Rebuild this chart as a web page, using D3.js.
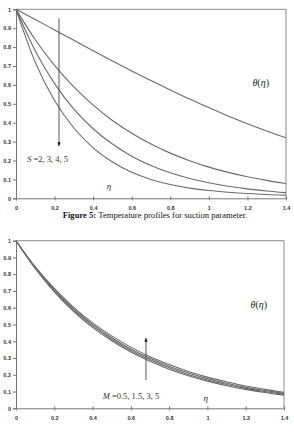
<!DOCTYPE html>
<html><head><meta charset="utf-8">
<script src="https://cdn.jsdelivr.net/npm/d3@7"></script>
<style>body{margin:0;background:#fff}svg{display:block}</style>
</head><body>
<svg id="c" width="294" height="432"></svg>
<script>
const eta = [0,0.1,0.2,0.3,0.4,0.5,0.6,0.7,0.8,0.9,1.0,1.1,1.2,1.3,1.4];
const xTicks = [0,0.2,0.4,0.6,0.8,1,1.2,1.4];
const xTickLabels = ["0","0.2","0.4","0.6","0.8","1","1.2","1.4"];
const yTicks = [0,0.1,0.2,0.3,0.4,0.5,0.6,0.7,0.8,0.9,1];
const yTickLabels = ["0","0.1","0.2","0.3","0.4","0.5","0.6","0.7","0.8","0.9","1"];

// Figure 5: suction parameter S = 2, 3, 4, 5
const sLabels = ["S=2","S=3","S=4","S=5"];
const thetaS2 = [1,0.946,0.891,0.836,0.781,0.727,0.674,0.623,0.573,0.525,0.480,0.436,0.395,0.356,0.320];
const thetaS3 = [1,0.839,0.703,0.589,0.493,0.412,0.344,0.287,0.239,0.199,0.165,0.137,0.114,0.095,0.078];
const thetaS4 = [1,0.779,0.607,0.472,0.368,0.287,0.223,0.174,0.135,0.105,0.082,0.064,0.050,0.039,0.030];
const thetaS5 = [1,0.719,0.517,0.372,0.267,0.192,0.138,0.100,0.073,0.054,0.041,0.032,0.025,0.020,0.017];

// Figure 6: magnetic parameter M = 0.5, 1.5, 3, 5
const mLabels = ["M=0.5","M=1.5","M=3","M=5"];
const thetaM05 = [1,0.834,0.695,0.579,0.483,0.403,0.336,0.280,0.233,0.194,0.162,0.135,0.113,0.094,0.078];
const thetaM15 = [1,0.837,0.701,0.587,0.492,0.412,0.345,0.289,0.242,0.202,0.169,0.142,0.119,0.100,0.083];
const thetaM3  = [1,0.841,0.708,0.595,0.501,0.421,0.354,0.298,0.251,0.211,0.177,0.149,0.125,0.106,0.089];
const thetaM5  = [1,0.845,0.715,0.604,0.510,0.432,0.365,0.308,0.261,0.220,0.186,0.158,0.133,0.113,0.095];

const svg = d3.select("#c");
const defs = svg.append("defs");
defs.append("marker").attr("id","ah").attr("viewBox","0 0 10 10").attr("refX",9).attr("refY",5)
  .attr("markerWidth",4).attr("markerHeight",4).attr("orient","auto")
  .append("path").attr("d","M0,1 L10,5 L0,9 Z").attr("fill","#111");

function panel(cfg){
  const x = d3.scaleLinear().domain([0,1.4]).range([cfg.left,cfg.right]);
  const y = d3.scaleLinear().domain([0,1]).range([cfg.bottom,cfg.top]);
  const g = svg.append("g");
  g.append("path").attr("d",`M${x(0)},${y(1)}H${x(1.4)}V${y(0)}`).attr("fill","none").attr("stroke","#8a8a8a").attr("stroke-width",1);
  const ya = d3.axisLeft(y).tickValues(yTicks).tickFormat((d,i)=>yTickLabels[i]).tickSize(3).tickPadding(2);
  const yg = g.append("g").attr("transform",`translate(${x(0)},0)`).call(ya);
  const xa = d3.axisBottom(x).tickValues(xTicks).tickFormat((d,i)=>xTickLabels[i]).tickSize(2).tickPadding(6);
  const xg = g.append("g").attr("transform",`translate(0,${y(0)})`).call(xa);
  xg.selectAll(".tick line").attr("y1",-2);
  [yg,xg].forEach(a=>{
    a.select(".domain").attr("stroke","#777");
    a.selectAll(".tick line").attr("stroke","#777");
    a.selectAll("text").attr("font-family","Liberation Sans, Arial, sans-serif").attr("font-size",5.5).attr("font-weight","bold").attr("fill","#333");
  });
  const line = d3.line().x((d,i)=>x(eta[i])).y(d=>y(d)).curve(d3.curveMonotoneX);
  cfg.series.forEach(s=>{
    g.append("path").attr("d",line(s)).attr("fill","none").attr("stroke","#6a6a6a").attr("stroke-width",1.1);
  });
  g.append("line").attr("x1",x(cfg.arrow[0])).attr("x2",x(cfg.arrow[0]))
    .attr("y1",y(cfg.arrow[1])).attr("y2",y(cfg.arrow[2]))
    .attr("stroke","#555").attr("stroke-width",1).attr("marker-end","url(#ah)");
  const th = g.append("text").attr("x",x(cfg.thetaPos[0])).attr("y",y(cfg.thetaPos[1]))
    .attr("font-family","Liberation Serif, Times New Roman, serif").attr("font-size",10).attr("fill","#222");
  th.append("tspan").attr("font-style","italic").text("θ");
  th.append("tspan").text("(");
  th.append("tspan").attr("font-style","italic").text("η");
  th.append("tspan").text(")");
  g.append("text").attr("x",x(cfg.etaPos[0])).attr("y",y(cfg.etaPos[1]))
    .attr("font-family","Liberation Serif, Times New Roman, serif").attr("font-style","italic").attr("font-size",9).attr("fill","#222").text("η");
  const pl = g.append("text").attr("x",x(cfg.parPos[0])).attr("y",y(cfg.parPos[1]))
    .attr("font-family","Liberation Serif, Times New Roman, serif").attr("font-size",8.5).attr("fill","#333");
  pl.append("tspan").attr("font-style","italic").text(cfg.parName);
  pl.append("tspan").text(" =" + cfg.parVals);
  return {x,y};
}

panel({left:16,right:286,top:9.3,bottom:198.3,
  series:[thetaS2,thetaS3,thetaS4,thetaS5],
  arrow:[0.223,0.952,0.277],
  thetaPos:[1.226,0.595], etaPos:[0.47,0.05], parPos:[0.058,0.19],
  parName:"S", parVals:"2, 3, 4, 5"});

panel({left:16,right:284,top:240.7,bottom:408.3,
  series:[thetaM05,thetaM15,thetaM3,thetaM5],
  arrow:[0.679,0.169,0.418],
  thetaPos:[1.225,0.60], etaPos:[0.98,0.045], parPos:[0.453,0.055],
  parName:"M", parVals:"0.5, 1.5, 3, 5"});

const cap = svg.append("text").attr("x",155).attr("y",218).attr("text-anchor","middle")
  .attr("font-family","Liberation Serif, Times New Roman, serif").attr("font-size",8.6).attr("fill","#111");
cap.append("tspan").attr("font-weight","bold").text("Figure 5:");
cap.append("tspan").text(" Temperature profiles for suction parameter.");
</script>
</body></html>
